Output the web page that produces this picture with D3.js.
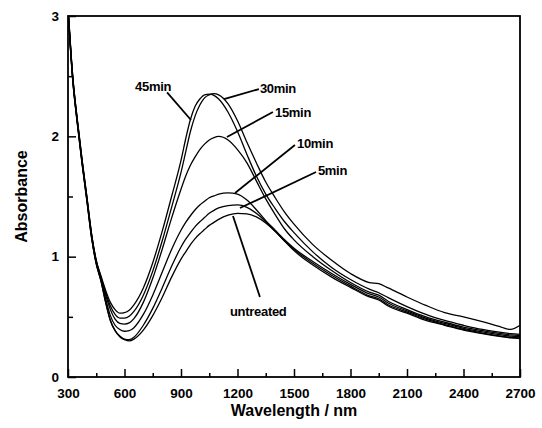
<!DOCTYPE html>
<html>
<head>
<meta charset="utf-8">
<script src="https://cdn.jsdelivr.net/npm/d3@7"></script>
<style>
  html, body { margin: 0; padding: 0; background: #fff; }
  svg { display: block; }
  text { font-family: "Liberation Sans", Arial, sans-serif; fill: #000; }
</style>
</head>
<body>
<svg id="chart" width="542" height="428"></svg>
<script>
// ---- data ----
const wavelength = [300,325,350,375,400,425,450,475,500,525,550,575,600,625,650,700,750,800,850,900,925,950,975,1000,1025,1050,1075,1100,1150,1200,1250,1300,1350,1400,1450,1500,1600,1700,1800,1900,1950,2000,2100,2200,2300,2400,2500,2600,2650,2700];

const abs45 = [3.08,2.50,2.13,1.80,1.50,1.19,0.97,0.84,0.72,0.62,0.56,0.53,0.535,0.555,0.60,0.74,0.95,1.21,1.50,1.80,1.98,2.14,2.25,2.31,2.345,2.35,2.34,2.31,2.20,2.04,1.85,1.67,1.52,1.40,1.29,1.20,1.04,0.91,0.81,0.73,0.70,0.66,0.585,0.52,0.47,0.43,0.395,0.37,0.36,0.355];
const abs30 = [3.08,2.50,2.13,1.80,1.50,1.19,0.965,0.83,0.70,0.59,0.52,0.49,0.49,0.505,0.545,0.68,0.88,1.13,1.41,1.70,1.87,2.04,2.17,2.26,2.32,2.345,2.355,2.345,2.27,2.13,1.95,1.78,1.62,1.49,1.37,1.27,1.10,0.97,0.86,0.785,0.775,0.74,0.665,0.595,0.535,0.50,0.46,0.415,0.395,0.43];
const abs15 = [3.06,2.49,2.12,1.79,1.49,1.18,0.96,0.82,0.68,0.56,0.48,0.445,0.44,0.45,0.485,0.62,0.82,1.06,1.32,1.56,1.67,1.76,1.83,1.89,1.935,1.97,1.99,2.00,1.97,1.89,1.78,1.63,1.48,1.35,1.23,1.14,1.00,0.885,0.785,0.705,0.68,0.63,0.56,0.50,0.455,0.415,0.385,0.36,0.35,0.345];
const abs10 = [3.05,2.48,2.11,1.78,1.48,1.17,0.95,0.81,0.65,0.51,0.43,0.395,0.38,0.385,0.41,0.52,0.68,0.87,1.06,1.22,1.285,1.34,1.39,1.43,1.46,1.49,1.505,1.52,1.53,1.52,1.47,1.39,1.30,1.22,1.14,1.07,0.96,0.86,0.77,0.69,0.665,0.615,0.55,0.49,0.445,0.405,0.375,0.35,0.34,0.335];
const abs5  = [3.05,2.47,2.10,1.77,1.47,1.16,0.94,0.80,0.62,0.47,0.385,0.34,0.315,0.31,0.33,0.43,0.57,0.74,0.92,1.08,1.145,1.20,1.25,1.29,1.325,1.36,1.385,1.405,1.425,1.43,1.41,1.36,1.29,1.21,1.13,1.06,0.945,0.845,0.755,0.675,0.65,0.60,0.54,0.48,0.435,0.395,0.365,0.34,0.33,0.325];
const abs0  = [3.05,2.47,2.10,1.77,1.47,1.16,0.94,0.80,0.62,0.47,0.385,0.335,0.31,0.30,0.315,0.39,0.51,0.66,0.83,0.98,1.04,1.10,1.15,1.19,1.225,1.26,1.285,1.31,1.345,1.36,1.355,1.33,1.28,1.21,1.13,1.05,0.93,0.83,0.745,0.665,0.64,0.59,0.53,0.47,0.43,0.39,0.36,0.335,0.325,0.32];

const seriesNames = ["45min","30min","15min","10min","5min","untreated"];
const seriesValues = [abs45, abs30, abs15, abs10, abs5, abs0];

const xMajorTicks = [300,600,900,1200,1500,1800,2100,2400,2700];
const xMinorTicks = [450,750,1050,1350,1650,1950,2250,2550];
const yMajorTicks = [0,1,2,3];
const yMinorTicks = [0.5,1.5,2.5];

// label annotations: [name, text anchor (nm, abs), leader start (nm, abs), leader end (nm, abs)]
const labelAnchors = [
  ["45min",     [656, 2.377], [826, 2.366], [953, 2.136]],
  ["30min",     [1319, 2.36], [1314, 2.393], [1128, 2.31]],
  ["15min",     [1399, 2.161], [1388, 2.202], [1144, 1.994]],
  ["10min",     [1516, 1.903], [1505, 1.928], [1187, 1.529]],
  ["5min",      [1627, 1.679], [1617, 1.704], [1213, 1.404]],
  ["untreated", [1160, 0.507], [1319, 0.665], [1176, 1.338]]
];

// ---- layout ----
const L = 68, R = 520, T = 16, B = 377;
const svg = d3.select("#chart");
const x = d3.scaleLinear().domain([300, 2700]).range([L, R]);
const y = d3.scaleLinear().domain([0, 3]).range([B, T]);

svg.append("defs").append("clipPath").attr("id", "plotclip")
  .append("rect").attr("x", L).attr("y", T).attr("width", R - L).attr("height", B - T);

// curves
const line = d3.line()
  .x((d, i) => x(wavelength[i]))
  .y(d => y(d))
  .curve(d3.curveMonotoneX);

svg.append("g").attr("clip-path", "url(#plotclip)")
  .selectAll("path").data(seriesValues).join("path")
  .attr("d", d => line(d))
  .attr("fill", "none")
  .attr("stroke", "#000")
  .attr("stroke-width", 1.3);

// axes
const fontTick = "bold 13.5px 'Liberation Sans', Arial, sans-serif";

const gx = svg.append("g").attr("transform", `translate(0,${B})`)
  .call(d3.axisBottom(x).tickValues(xMajorTicks).tickSize(-8).tickPadding(11).tickFormat(d3.format("d")));
const gxm = svg.append("g").attr("transform", `translate(0,${B})`)
  .call(d3.axisBottom(x).tickValues(xMinorTicks).tickSize(-4).tickFormat(""));
const gy = svg.append("g").attr("transform", `translate(${L},0)`)
  .call(d3.axisLeft(y).tickValues(yMajorTicks).tickSize(-8).tickPadding(9).tickFormat(d3.format("d")));
const gym = svg.append("g").attr("transform", `translate(${L},0)`)
  .call(d3.axisLeft(y).tickValues(yMinorTicks).tickSize(-5).tickFormat(""));

[gx, gxm, gy, gym].forEach(g => {
  g.select(".domain").remove();
  g.selectAll(".tick line").attr("stroke", "#000").attr("stroke-width", 1.5);
  g.selectAll(".tick text").style("font", fontTick).attr("fill", "#000");
});

// frame
svg.append("rect").attr("x", L).attr("y", T).attr("width", R - L).attr("height", B - T)
  .attr("fill", "none").attr("stroke", "#000").attr("stroke-width", 1.8);

// labels and leaders
const lab = svg.append("g");
labelAnchors.forEach(([name, t, s, e]) => {
  lab.append("line")
    .attr("x1", x(s[0])).attr("y1", y(s[1]))
    .attr("x2", x(e[0])).attr("y2", y(e[1]))
    .attr("stroke", "#000").attr("stroke-width", 1.8);
  lab.append("text")
    .attr("x", x(t[0])).attr("y", y(t[1]))
    .style("font", "bold 13px 'Liberation Sans', Arial, sans-serif")
    .style("letter-spacing", "-0.3px")
    .text(name);
});

// axis titles
svg.append("text")
  .attr("x", (L + R) / 2).attr("y", 416)
  .attr("text-anchor", "middle")
  .style("font", "bold 16px 'Liberation Sans', Arial, sans-serif")
  .text("Wavelength / nm");

svg.append("text")
  .attr("transform", `translate(27,${(T + B) / 2}) rotate(-90)`)
  .attr("text-anchor", "middle")
  .style("font", "bold 16px 'Liberation Sans', Arial, sans-serif")
  .text("Absorbance");
</script>
</body>
</html>
